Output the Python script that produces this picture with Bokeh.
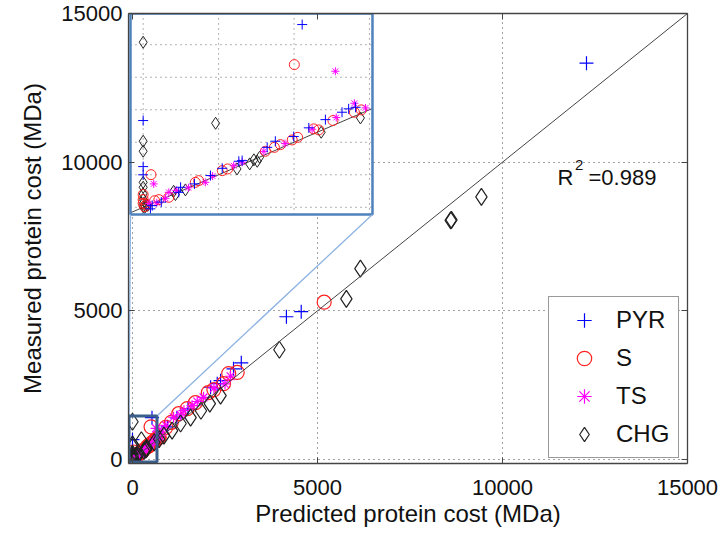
from bokeh.plotting import figure
from bokeh.models import (Range1d, LinearAxis, FixedTicker, Slope, Label, Legend,
                          LegendItem, CustomJSTickFormatter)
from bokeh.embed import file_html
from bokeh.resources import INLINE

# ---------------- data ----------------
pyr_x = [12270, 4560, 4160, 2940, 2730, 2380, 2290, 2110, 1500, 1200, 950,
         527, 0, 0, 0, 24, 30, 118, 124, 223, 262, 317, 328, 411, 438, 499, 549, 604, 659, 681, 704, 60, 170]
pyr_y = [13330, 4970, 4800, 3250, 3050, 2650, 2550, 2430, 1700, 1400, 1100,
         1405, 667, 313, 250, -12, 13, 115, 154, 244, 300, 354, 359, 461, 508, 544, 611, 674, 731, 757, 769, 40, 180]

s_x = [5180, 2830, 2600, 2460, 2200, 2050, 1700, 1480, 1250, 1050, 900,
       501, 26, 0, 0, 0, 5, 10, 38, 52, 85, 173, 184, 262, 280, 405, 435, 455, 494, 512, 565, 582, 629, 700, 723]
s_y = [5290, 2930, 2890, 2550, 2350, 2250, 1910, 1710, 1540, 1250, 1080,
       1097, 251, 98, 60, 30, 5, 20, 51, 59, 77, 192, 205, 282, 295, 431, 461, 482, 518, 538, 603, 595, 667, 731, 749]

ts_x = [2650, 2500, 2200, 1920, 1750, 1610, 1390, 1300, 1110, 900, 800, 700,
        637, 35, 74, 85, 206, 230, 328, 470, 560, 737, 20, 45, 150, 110, 300, 400, 640]
ts_y = [2800, 2540, 2400, 2090, 1950, 1810, 1640, 1500, 1420, 1150, 950, 800,
        1046, 180, 69, 115, 192, 240, 346, 490, 600, 764, 30, 35, 150, 130, 320, 430, 690]

chg_x = [9430, 8620, 8600, 6160, 5780, 3970, 2380, 2090, 1850, 1570, 1300, 1070, 850,
         0, 240, 0, 0, 0, 0, 0, 0, 0, 0, 5, 10, 15, 101, 107, 140, 311, 353, 367, 378, 386, 590, 720]
chg_y = [8830, 8060, 8040, 6420, 5400, 3690, 2150, 1880, 1640, 1410, 1210, 970, 800,
         1269, 646, 508, 431, 192, 154, 103, 60, 30, 5, 0, 20, 15, 123, 98, 134, 295, 334, 365, 354, 385, 577, 687]

series_names = ["PYR", "S", "TS", "CHG"]
r2_text = "0.989"
x_title = "Predicted protein cost (MDa)"
y_title = "Measured protein cost (MDa)"

axis_ticks = [0, 5000, 10000, 15000]
grid_ticks = [0, 5000, 10000]
inset_x_ticks = [0, 250, 500, 750]
inset_y_ticks = [0, 250, 500, 750, 1000, 1250]

# ---------------- layout constants ----------------
FONT = "Liberation Sans"
TXT = "#111111"
X_RANGE = (-108, 15000)
Y_RANGE = (-135, 15000)
INSET_X = (-42, 760)          # data window shown in the inset
INSET_Y = (-55, 1490)
INSET_BOX = dict(left=-54, right=6486, bottom=8241, top=15000)   # inset placement (main units)
ZOOM_BOX = dict(left=-95, right=662, bottom=-84, top=1463)       # zoom rectangle (main units)

p = figure(width=724, height=535, x_range=Range1d(*X_RANGE), y_range=Range1d(*Y_RANGE),
           output_backend="svg", toolbar_location=None,
           min_border_left=128, min_border_right=37, min_border_top=13, min_border_bottom=72,
           x_axis_label=x_title, y_axis_label=y_title)
p.outline_line_color = None
p.background_fill_color = "white"
p.border_fill_color = "white"

# inset extra ranges mapped through the main frame
sx = (INSET_X[1] - INSET_X[0]) / (INSET_BOX["right"] - INSET_BOX["left"])
sy = (INSET_Y[1] - INSET_Y[0]) / (INSET_BOX["top"] - INSET_BOX["bottom"])
p.extra_x_ranges = {"inset": Range1d(INSET_X[0] + (X_RANGE[0] - INSET_BOX["left"]) * sx,
                                     INSET_X[0] + (X_RANGE[1] - INSET_BOX["left"]) * sx)}
p.extra_y_ranges = {"inset": Range1d(INSET_Y[0] + (Y_RANGE[0] - INSET_BOX["bottom"]) * sy,
                                     INSET_Y[0] + (Y_RANGE[1] - INSET_BOX["bottom"]) * sy)}

# axes
for ax in (p.xaxis[0], p.yaxis[0]):
    ax.ticker = FixedTicker(ticks=axis_ticks)
    ax.major_tick_in = 6
    ax.major_tick_out = 0
    ax.minor_tick_line_color = None
    ax.axis_line_color = "#444444"
    ax.axis_line_width = 1.3
    ax.major_tick_line_color = "#444444"
    ax.major_label_text_font = FONT
    ax.major_label_text_font_size = "22px"
    ax.major_label_text_color = TXT
    ax.axis_label_text_font = FONT
    ax.axis_label_text_font_size = "24px"
    ax.axis_label_text_font_style = "normal"
    ax.axis_label_text_color = TXT
p.xaxis[0].major_label_standoff = 16
p.xaxis[0].axis_label_standoff = 2
p.yaxis[0].major_label_standoff = 6
p.yaxis[0].axis_label_standoff = 12

for loc in ("above", "right"):
    ax = LinearAxis(ticker=FixedTicker(ticks=axis_ticks), major_tick_in=6, major_tick_out=0,
                    minor_tick_line_color=None, axis_line_color="#444444", axis_line_width=1.3,
                    major_tick_line_color="#444444", major_label_text_font_size="1px",
                    formatter=CustomJSTickFormatter(code="return ''"),
                    major_label_standoff=0, axis_label_standoff=0)
    p.add_layout(ax, loc)

for g in (p.xgrid[0], p.ygrid[0]):
    g.ticker = FixedTicker(ticks=grid_ticks)
    g.grid_line_color = "#444444"
    g.grid_line_dash = "1 4"
    g.grid_line_width = 1

# main y = x line
p.add_layout(Slope(gradient=1, y_intercept=0, line_color="#444444", line_width=1))

# ---------------- main scatter ----------------
r_pyr = p.scatter(pyr_x, pyr_y, marker="cross", size=14, line_color="#0000FF", line_width=1.2)
r_s = p.scatter(s_x, s_y, marker="circle", size=14, line_color="#FF2020", fill_color=None, line_width=1.2)
r_ts = p.scatter(ts_x, ts_y, marker="asterisk", size=11, line_color="#FF00FF", line_width=1.2)
r_chg = p.scatter(chg_x, chg_y, marker="diamond", size=17, line_color="#222222", fill_color=None, line_width=1.2)

# ---------------- inset ----------------
p.quad(left=INSET_BOX["left"], right=INSET_BOX["right"], bottom=INSET_BOX["bottom"],
       top=INSET_BOX["top"], fill_color="white", line_color=None)

ikw = dict(x_range_name="inset", y_range_name="inset")
p.segment(x0=inset_x_ticks, x1=inset_x_ticks, y0=[INSET_Y[0]] * len(inset_x_ticks),
          y1=[INSET_Y[1]] * len(inset_x_ticks), line_color="#666666", line_dash="1 4", **ikw)
p.segment(y0=inset_y_ticks, y1=inset_y_ticks, x0=[INSET_X[0]] * len(inset_y_ticks),
          x1=[INSET_X[1]] * len(inset_y_ticks), line_color="#666666", line_dash="1 4", **ikw)

diag = [max(INSET_X[0], INSET_Y[0]), min(INSET_X[1], INSET_Y[1])]
p.line(diag, diag, line_color="#444444", line_width=1, **ikw)


def in_inset(xs, ys):
    pts = [(x, y) for x, y in zip(xs, ys)
           if INSET_X[0] <= x <= INSET_X[1] and INSET_Y[0] <= y <= INSET_Y[1]]
    return [a for a, _ in pts], [b for _, b in pts]


ix, iy = in_inset(chg_x, chg_y)
p.scatter(ix, iy, marker="diamond", size=12, line_color="#222222", fill_color=None, line_width=1, **ikw)
ix, iy = in_inset(s_x, s_y)
p.scatter(ix, iy, marker="circle", size=10, line_color="#FF2020", fill_color=None, line_width=1, **ikw)
ix, iy = in_inset(ts_x, ts_y)
p.scatter(ix, iy, marker="asterisk", size=8, line_color="#FF00FF", line_width=1, **ikw)
ix, iy = in_inset(pyr_x, pyr_y)
p.scatter(ix, iy, marker="cross", size=10, line_color="#0000FF", line_width=1, **ikw)

p.quad(left=INSET_BOX["left"], right=INSET_BOX["right"], bottom=INSET_BOX["bottom"],
       top=INSET_BOX["top"], fill_color=None, line_color="#4F81BD", line_width=2.5)

# connectors and zoom rectangle
p.segment(x0=[INSET_BOX["left"], INSET_BOX["right"]], y0=[INSET_BOX["bottom"]] * 2,
          x1=[ZOOM_BOX["left"], ZOOM_BOX["right"]], y1=[ZOOM_BOX["top"]] * 2,
          line_color="#8DB3E2", line_width=1.3)
p.quad(left=ZOOM_BOX["left"], right=ZOOM_BOX["right"], bottom=ZOOM_BOX["bottom"],
       top=ZOOM_BOX["top"], fill_color=None, line_color="#3A5F8B", line_width=3)

# R^2 annotation
p.add_layout(Label(x=11486, y=9468, text="R", text_font=FONT, text_font_size="22px",
                   text_color=TXT, text_baseline="alphabetic"))
p.add_layout(Label(x=11960, y=9889, text="2", text_font=FONT, text_font_size="15px",
                   text_color=TXT, text_baseline="alphabetic"))
p.add_layout(Label(x=12324, y=9468, text="=" + r2_text, text_font=FONT, text_font_size="22px",
                   text_color=TXT, text_baseline="alphabetic"))

# legend
legend = Legend(items=[LegendItem(label=n, renderers=[r]) for n, r in
                       zip(series_names, [r_pyr, r_s, r_ts, r_chg])],
                location=(420, 5), orientation="vertical",
                glyph_width=60, glyph_height=36, label_height=36, label_width=57,
                label_standoff=2, spacing=2, padding=5, margin=0,
                label_text_font=FONT, label_text_font_size="24px", label_text_color=TXT,
                border_line_color="#333333", border_line_width=1.3,
                background_fill_color="white", background_fill_alpha=1)
p.add_layout(legend)

open("out.html", "w").write(file_html(p, INLINE))
